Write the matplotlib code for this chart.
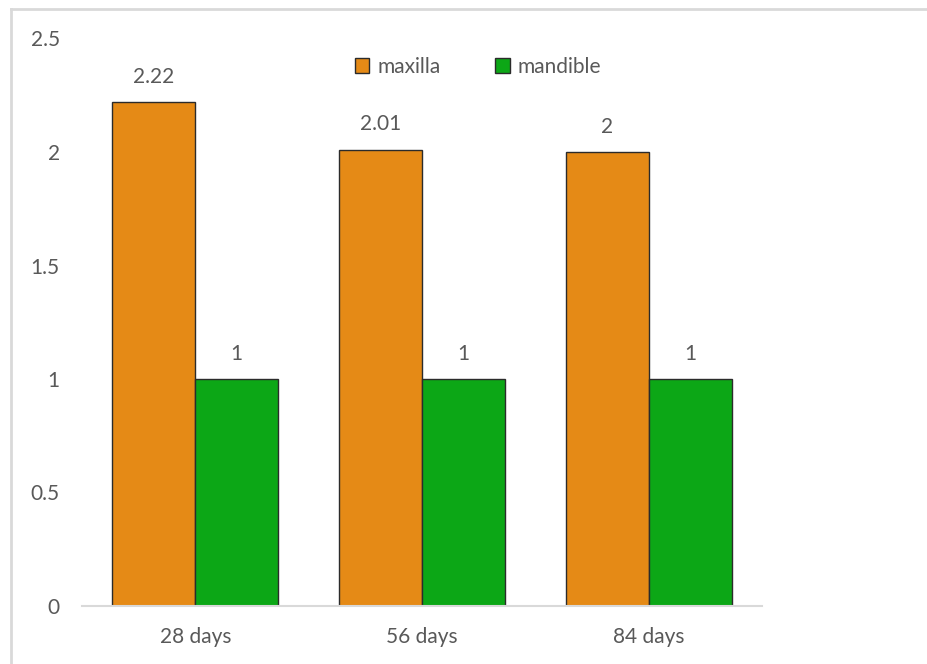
import matplotlib
matplotlib.use("Agg")
import matplotlib.pyplot as plt
import numpy as np
from matplotlib.lines import Line2D

categories = ["28 days", "56 days", "84 days"]
maxilla = [2.22, 2.01, 2.0]
mandible = [1, 1, 1]
yticks = [0, 0.5, 1, 1.5, 2, 2.5]
ytick_labels = ["0", "0.5", "1", "1.5", "2", "2.5"]

plt.rcParams["font.family"] = ["Lato", "DejaVu Sans"]
text_color = "#595959"
orange = "#E58A16"
green = "#0CA716"
fs = 15

W, H = 928, 664
fig = plt.figure(figsize=(W / 100, H / 100), dpi=100)
ax = fig.add_axes([82 / W, (H - 606) / H, (762 - 82) / W, (606 - 38.5) / H])

x = np.arange(len(categories))
bw = 0.366
b1 = ax.bar(x - bw / 2, maxilla, bw, color=orange, edgecolor="#2b2b2b", linewidth=1.0, label="maxilla")
b2 = ax.bar(x + bw / 2, mandible, bw, color=green, edgecolor="#2b2b2b", linewidth=1.0, label="mandible")

for bars, vals in ((b1, maxilla), (b2, mandible)):
    for rect, v in zip(bars, vals):
        ax.annotate(f"{v:g}", (rect.get_x() + rect.get_width() / 2, v),
                    xytext=(0, 11), textcoords="offset points",
                    ha="center", va="bottom", fontsize=fs, color=text_color)

ax.set_xlim(-0.5, 2.5)
ax.set_ylim(0, 2.5)
ax.set_yticks(yticks)
ax.set_yticklabels(ytick_labels)
ax.set_xticks(x)
ax.set_xticklabels(categories)
ax.tick_params(axis="y", length=0, pad=16, labelsize=fs, labelcolor=text_color)
ax.tick_params(axis="x", length=0, pad=15, labelsize=fs, labelcolor=text_color)
for s in ("top", "right", "left"):
    ax.spines[s].set_visible(False)
ax.spines["bottom"].set_color("#D9D9D9")
ax.spines["bottom"].set_linewidth(1.5)

leg = fig.legend(handles=[b1, b2], loc="center", bbox_to_anchor=(478 / W, (H - 67) / H),
                 ncol=2, frameon=False, fontsize=fs, handlelength=0.7, handleheight=0.7,
                 handletextpad=0.4, columnspacing=2.6, labelcolor=text_color)

# outer chart border (top and left edges)
fig.add_artist(Line2D([11 / W, 1], [1 - 9 / H, 1 - 9 / H], transform=fig.transFigure,
                      color="#D9D9D9", linewidth=2))
fig.add_artist(Line2D([11 / W, 11 / W], [0, 1 - 9 / H], transform=fig.transFigure,
                      color="#D9D9D9", linewidth=2))

fig.savefig("out.png", dpi=100, facecolor="white")
